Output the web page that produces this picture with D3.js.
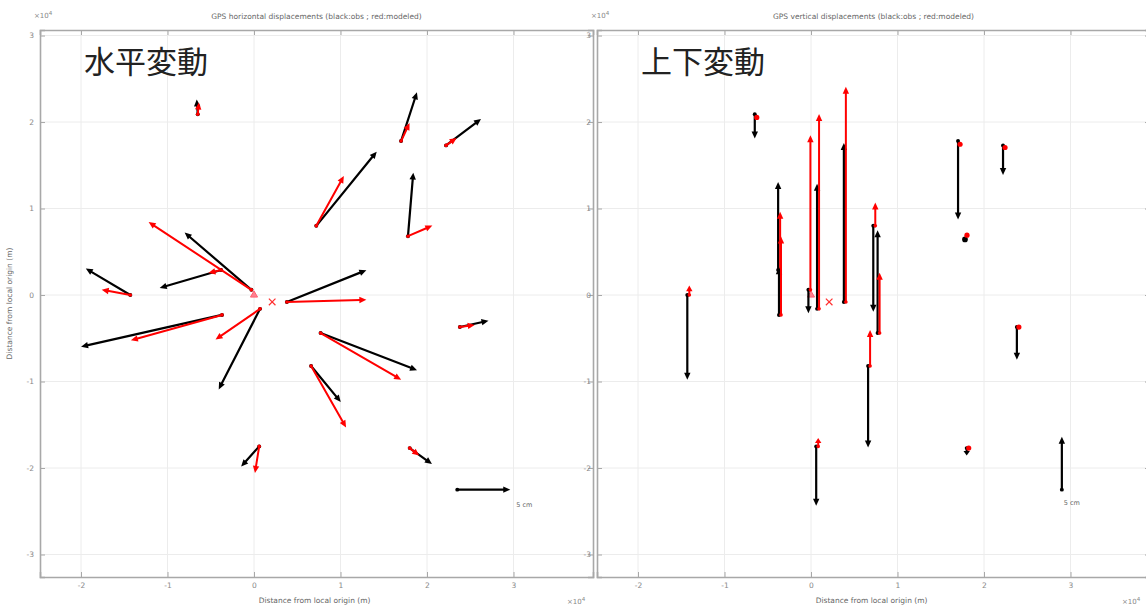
<!DOCTYPE html>
<html><head><meta charset="utf-8">
<script src="https://cdn.jsdelivr.net/npm/d3@7"></script>
<style>body{margin:0;background:#fff;} svg{display:block;font-family:"DejaVu Sans",sans-serif;}</style>
</head><body><svg id="c" width="1146" height="608"></svg>
<script>
// ---- data (station positions in metres, displacements in cm) ----
const stationNames = ["A","B","C","D","E","F","G","H","I","J","K","L","M","N","O","P"];
const stationX = [-6500,17000,22200,7200,17800,-14300,-3800,-300,-3700,700,3800,23800,7700,6600,600,18000];
const stationY = [20900,17800,17300,8000,6800,0,2900,600,-2300,-1600,-800,-3700,-4400,-8200,-17500,-17700];
const obsEast  = [-0.1,1.5,3.3,5.7,0.5,-4.2,-5.8,-6.3,-13.3,-3.9,7.5,2.7,9.1,2.8,-1.7,2.1];
const obsNorth = [1.4,4.6,2.5,7.0,6.0,2.5,-1.7,5.4,-3.0,-7.6,3.0,0.6,-3.5,-3.4,-1.9,-1.5];
const modEast  = [0.1,0.8,1.0,2.6,2.3,-2.7,-1.2,-9.7,-8.6,-4.2,7.5,1.4,7.6,3.3,-0.4,0.9];
const modNorth = [1.1,1.7,0.7,4.7,1.0,0.5,-0.3,6.4,-2.4,-2.9,0.2,0.2,-4.4,-5.8,-2.5,-0.7];
const obsUp    = [-2.3,-7.4,-2.8,-8.1,-0.3,-8.0,8.3,-2.2,4.5,11.8,15.0,-3.1,9.7,-7.7,-5.6,-0.7];
const modUp    = [-0.3,-0.3,-0.2,2.2,0.1,0.9,5.5,14.6,7.4,18.4,20.3,0.0,5.7,3.4,0.8,0.0];
const epicenter = [2100,-800];
const originMark = [0,0];
const scaleArrowCm = 5;
const scaleArrowPos = [23500,-22500];
const scaleArrowPosV = [29000,-22500];
const xTicks = [-20000,-10000,0,10000,20000,30000];
const xTickLabels = ["-2","-1","0","1","2","3"];
const yTicks = [-30000,-20000,-10000,0,10000,20000,30000];
const yTickLabels = ["-3","-2","-1","0","1","2","3"];
const titles = ["GPS horizontal displacements (black:obs ; red:modeled)","GPS vertical displacements (black:obs ; red:modeled)"];
const bigLabels = ["水平変動","上下変動"];
const axisLabel = "Distance from local origin (m)";
const vecScale = 1225; // metres of map per cm of displacement

const svg = d3.select("#c");
const panels = [{x0:40,x1:593,kind:"h"},{x0:597,x1:1150,kind:"v"}];
const yTop = 30, yBot = 577;
const xDomain = [-24740, 39190], yDomain = [-32600, 30640];

function drawArrow(g, x1, y1, x2, y2, color, w) {
  const dx = x2 - x1, dy = y2 - y1, L = Math.hypot(dx, dy);
  if (L < 4) {
    g.append("circle").attr("cx", x2).attr("cy", y2).attr("r", w*1.3).attr("fill", color);
    return;
  }
  const ux = dx / L, uy = dy / L, hl = Math.min(7, L*0.6), hw = 3.2;
  const bx = x2 - ux*hl, by = y2 - uy*hl;
  g.append("line").attr("x1", x1).attr("y1", y1).attr("x2", bx + ux).attr("y2", by + uy)
    .attr("stroke", color).attr("stroke-width", w).attr("stroke-linecap","round");
  g.append("path").attr("d", `M${x2},${y2}L${bx - uy*hw},${by + ux*hw}L${bx + uy*hw},${by - ux*hw}Z`)
    .attr("fill", color);
  g.append("circle").attr("cx", x1).attr("cy", y1).attr("r", w*0.9).attr("fill", color);
}

panels.forEach((p, pi) => {
  const x = d3.scaleLinear().domain(xDomain).range([p.x0, p.x1]);
  const y = d3.scaleLinear().domain(yDomain).range([yBot, yTop]);
  const g = svg.append("g");
  // grid
  const grid = g.append("g");
  grid.selectAll("line.gx").data(xTicks).join("line").attr("x1", d=>x(d)).attr("x2", d=>x(d))
    .attr("y1", yTop).attr("y2", yBot).attr("stroke", "#ececec").attr("stroke-width", 1);
  grid.selectAll("line.gy").data(yTicks).join("line").attr("x1", p.x0).attr("x2", p.x1)
    .attr("y1", d=>y(d)).attr("y2", d=>y(d)).attr("stroke", "#ececec").attr("stroke-width", 1);
  // axes
  const axStyle = sel => {
    sel.selectAll(".domain").attr("stroke", "#a8a8a8").attr("stroke-width", 1.6);
    sel.selectAll(".tick line").attr("stroke", "#a8a8a8");
    sel.selectAll(".tick text").attr("fill", "#888").attr("font-size", 7.5);
  };
  g.append("g").attr("transform", `translate(0,${yBot})`)
    .call(d3.axisBottom(x).tickValues(xTicks).tickFormat((d,i)=>xTickLabels[i]).tickSize(-5).tickPadding(6)).call(axStyle);
  g.append("g").attr("transform", `translate(0,${yTop})`)
    .call(d3.axisTop(x).tickValues(xTicks).tickFormat("").tickSize(-5)).call(axStyle);
  g.append("g").attr("transform", `translate(${p.x0},0)`)
    .call(d3.axisLeft(y).tickValues(yTicks).tickFormat((d,i)=>yTickLabels[i]).tickSize(-5).tickPadding(6)).call(axStyle);
  g.append("g").attr("transform", `translate(${p.x1},0)`)
    .call(d3.axisRight(y).tickValues(yTicks).tickFormat("").tickSize(-5)).call(axStyle);
  g.selectAll("text").attr("font-family", "DejaVu Sans");

  // title
  g.append("text").attr("x", (p.x0+p.x1)/2).attr("y", 19).attr("text-anchor","middle")
    .attr("font-size", 7.5).attr("fill", "#666").text(titles[pi]);
  // exponents
  const e1 = g.append("text").attr("x", p.x0 - 6).attr("y", 18).attr("font-size", 7).attr("fill", "#888");
  e1.append("tspan").text("×10");
  e1.append("tspan").attr("dy", -3).attr("font-size", 5.5).text("4");
  const e2 = g.append("text").attr("x", Math.min(p.x1 - 26, 1122)).attr("y", 604).attr("font-size", 7).attr("fill", "#888");
  e2.append("tspan").text("×10");
  e2.append("tspan").attr("dy", -3).attr("font-size", 5.5).text("4");
  // x label
  g.append("text").attr("x", x(7000)).attr("y", 603).attr("text-anchor","middle")
    .attr("font-size", 7.5).attr("fill", "#666").text(axisLabel);
  if (pi === 0) {
    g.append("text").attr("transform", `translate(12,${(yTop+yBot)/2}) rotate(-90)`).attr("text-anchor","middle")
      .attr("font-size", 7.5).attr("fill", "#666").text(axisLabel);
  }
  // big label
  g.append("text").attr("x", p.x0 + 44).attr("y", 73).attr("font-size", 31)
    .attr("font-family", "Noto Sans CJK JP").attr("fill", "#222").text(bigLabels[pi]);

  const vg = g.append("g");
  // markers
  vg.append("path").attr("d", d3.symbol(d3.symbolTriangle, 22)())
    .attr("transform", `translate(${x(originMark[0])},${y(originMark[1])})`)
    .attr("fill", "#ff8090").attr("stroke", "#ff6070").attr("stroke-width", 1);
  vg.append("path").attr("d", d3.symbol(d3.symbolX, 30)())
    .attr("transform", `translate(${x(epicenter[0])},${y(epicenter[1])})`)
    .attr("fill", "none").attr("stroke", "#ff3030").attr("stroke-width", 1.2);

  stationNames.forEach((s, i) => {
    const sx = x(stationX[i]), sy = y(stationY[i]);
    let ox, oy, mx, my;
    if (p.kind === "h") {
      ox = x(stationX[i] + obsEast[i]*vecScale); oy = y(stationY[i] + obsNorth[i]*vecScale);
      mx = x(stationX[i] + modEast[i]*vecScale); my = y(stationY[i] + modNorth[i]*vecScale);
    } else {
      ox = sx; oy = y(stationY[i] + obsUp[i]*vecScale);
      mx = sx + 2; my = y(stationY[i] + modUp[i]*vecScale);
    }
    drawArrow(vg, sx, sy, ox, oy, "#000", 2.2);
    drawArrow(vg, p.kind === "v" ? sx + 2 : sx, sy, mx, my, "#ff0000", 2);
  });
  // scale arrow
  if (p.kind === "h") {
    const sx = x(scaleArrowPos[0]), sy = y(scaleArrowPos[1]);
    drawArrow(vg, sx, sy, x(scaleArrowPos[0] + scaleArrowCm*vecScale), sy, "#000", 2.2);
    vg.append("text").attr("x", x(scaleArrowPos[0] + scaleArrowCm*vecScale) + 6).attr("y", sy + 17)
      .attr("font-size", 6.5).attr("fill", "#666").text("5 cm");
  } else {
    const sx = x(scaleArrowPosV[0]), sy = y(scaleArrowPosV[1]);
    drawArrow(vg, sx, sy, sx, y(scaleArrowPosV[1] + scaleArrowCm*vecScale), "#000", 2.2);
    vg.append("text").attr("x", sx + 2).attr("y", sy + 15)
      .attr("font-size", 6.5).attr("fill", "#666").text("5 cm");
  }
});
</script></body></html>
